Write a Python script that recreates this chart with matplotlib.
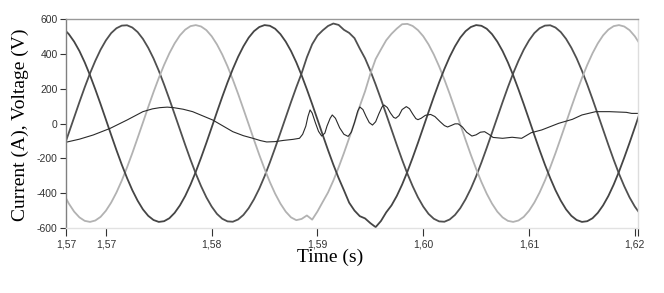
import matplotlib.pyplot as plt

# --- valores ---
# tempo (s) das amostras das tensões (passo de 0,5 ms)
t_v = [1.5660, 1.5665, 1.5670, 1.5675, 1.5680, 1.5685, 1.5690, 1.5695, 1.5700, 1.5705,
       1.5710, 1.5715, 1.5720, 1.5725, 1.5730, 1.5735, 1.5740, 1.5745, 1.5750, 1.5755,
       1.5760, 1.5765, 1.5770, 1.5775, 1.5780, 1.5785, 1.5790, 1.5795, 1.5800, 1.5805,
       1.5810, 1.5815, 1.5820, 1.5825, 1.5830, 1.5835, 1.5840, 1.5845, 1.5850, 1.5855,
       1.5860, 1.5865, 1.5870, 1.5875, 1.5880, 1.5885, 1.5890, 1.5895, 1.5900, 1.5905,
       1.5910, 1.5915, 1.5920, 1.5925, 1.5930, 1.5935, 1.5940, 1.5945, 1.5950, 1.5955,
       1.5960, 1.5965, 1.5970, 1.5975, 1.5980, 1.5985, 1.5990, 1.5995, 1.6000, 1.6005,
       1.6010, 1.6015, 1.6020, 1.6025, 1.6030, 1.6035, 1.6040, 1.6045, 1.6050, 1.6055,
       1.6060, 1.6065, 1.6070, 1.6075, 1.6080, 1.6085, 1.6090, 1.6095, 1.6100, 1.6105,
       1.6110, 1.6115, 1.6120, 1.6125, 1.6130, 1.6135, 1.6140, 1.6145, 1.6150, 1.6155,
       1.6160, 1.6165, 1.6170, 1.6175, 1.6180, 1.6185, 1.6190, 1.6195, 1.6200, 1.6205,
       1.6210]

v_a = [-140, -53, 35, 123, 208, 288, 360, 424, 477, 519,
       547, 562, 564, 551, 525, 486, 435, 374, 303, 224,
       140, 53, -35, -123, -208, -288, -360, -424, -477, -519,
       -547, -562, -564, -551, -525, -486, -435, -374, -303, -224,
       -140, -53, 35, 123, 208, 288, 380, 455, 505, 535,
       560, 574, 566, 538, 520, 490, 430, 374, 303, 224,
       140, 53, -35, -123, -208, -288, -360, -424, -477, -519,
       -547, -562, -564, -551, -525, -486, -435, -374, -303, -224,
       -140, -53, 35, 123, 208, 288, 360, 424, 477, 519,
       547, 562, 564, 551, 525, 486, 435, 374, 303, 224,
       140, 53, -35, -123, -208, -288, -360, -424, -477, -519,
       -547]

v_b = [-403, -460, -506, -539, -559, -565, -557, -536, -501, -454,
       -396, -328, -252, -170, -83, 5, 94, 180, 261, 336,
       403, 460, 506, 539, 559, 565, 557, 536, 501, 454,
       396, 328, 252, 170, 83, -5, -94, -180, -261, -336,
       -403, -460, -506, -539, -555, -548, -528, -552, -505, -450,
       -396, -328, -252, -170, -83, 5, 100, 185, 285, 370,
       425, 478, 515, 545, 570, 572, 560, 536, 501, 454,
       396, 328, 252, 170, 83, -5, -94, -180, -261, -336,
       -403, -460, -506, -539, -559, -565, -557, -536, -501, -454,
       -396, -328, -252, -170, -83, 5, 94, 180, 261, 336,
       403, 460, 506, 539, 559, 565, 557, 536, 501, 454,
       396]

v_c = [544, 513, 470, 416, 351, 277, 196, 111, 23, -66,
       -153, -236, -313, -383, -443, -493, -530, -554, -565, -561,
       -544, -513, -470, -416, -351, -277, -196, -111, -23, 66,
       153, 236, 313, 383, 443, 493, 530, 554, 565, 561,
       544, 513, 470, 416, 351, 277, 196, 111, 23, -66,
       -153, -236, -313, -383, -455, -500, -532, -545, -572, -595,
       -560, -510, -470, -416, -351, -277, -196, -111, -23, 66,
       153, 236, 313, 383, 443, 493, 530, 554, 565, 561,
       544, 513, 470, 416, 351, 277, 196, 111, 23, -66,
       -153, -236, -313, -383, -443, -493, -530, -554, -565, -561,
       -544, -513, -470, -416, -351, -277, -196, -111, -23, 66,
       153]

# corrente (A)
t_i = [1.5662, 1.5675, 1.5688, 1.5704, 1.5720, 1.5735, 1.5744, 1.5751, 1.5758, 1.5764,
       1.5773, 1.5782, 1.5801, 1.5820, 1.5830, 1.5839, 1.5846, 1.5852, 1.5860, 1.5868,
       1.5877, 1.5883, 1.5886, 1.5889, 1.5891, 1.5893, 1.5895, 1.5898, 1.5901, 1.5904,
       1.5907, 1.5909, 1.5912, 1.5914, 1.5917, 1.5921, 1.5925, 1.5929, 1.5932, 1.5935,
       1.5938, 1.5940, 1.5943, 1.5946, 1.5949, 1.5952, 1.5955, 1.5958, 1.5961, 1.5963,
       1.5966, 1.5969, 1.5972, 1.5974, 1.5977, 1.5980, 1.5984, 1.5987, 1.5990, 1.5993,
       1.5995, 1.5998, 1.6002, 1.6007, 1.6011, 1.6016, 1.6020, 1.6023, 1.6027, 1.6030,
       1.6033, 1.6037, 1.6041, 1.6046, 1.6050, 1.6054, 1.6058, 1.6062, 1.6066, 1.6075,
       1.6084, 1.6093, 1.6102, 1.6112, 1.6128, 1.6141, 1.6150, 1.6163, 1.6176, 1.6192,
       1.6197, 1.6203]
i_a = [-108, -90, -66, -28, 20, 68, 84, 91, 94, 91,
       82, 68, 20, -47, -70, -85, -98, -106, -104, -97,
       -91, -85, -62, -15, 40, 78, 60, 5, -45, -72,
       -55, -15, 30, 49, 30, -25, -62, -74, -50, 5,
       70, 95, 80, 40, 5, -9, 10, 55, 95, 106,
       92, 60, 35, 30, 45, 80, 97, 85, 55, 28,
       22, 30, 47, 52, 40, 10, -12, -20, -10, -2,
       -2, -20, -50, -72, -65, -50, -47, -62, -80, -85,
       -79, -85, -53, -37, 1, 24, 49, 68, 68, 64,
       58, 58]

y_ticks = [-600, -400, -200, 0, 200, 400, 600]
x_ticks = [1.56623, 1.57, 1.58, 1.59, 1.60, 1.61, 1.62, 1.6203]
x_labels = ['1,57', '1,57', '1,58', '1,59', '1,60', '1,61', '1,62', '']

fig = plt.figure(figsize=(6.64, 2.93), dpi=100)
ax = fig.add_axes([66 / 664, 1 - 228 / 293, 572 / 664, 209 / 293])

ax.plot(t_v, v_a, color='#505050', lw=1.3)
ax.plot(t_v, v_b, color='#b2b2b2', lw=1.3)
ax.plot(t_v, v_c, color='#454545', lw=1.3)
ax.plot(t_i, i_a, color='#2a2a2a', lw=0.8)

ax.set_xlim(1.56623, 1.6203)
ax.set_ylim(-600, 600)
ax.set_yticks(y_ticks)
ax.set_yticklabels([str(v) for v in y_ticks])
ax.set_xticks(x_ticks)
ax.set_xticklabels(x_labels)
for lab in ax.get_xticklabels() + ax.get_yticklabels():
    lab.set_family('Liberation Sans')

ax.tick_params(axis='both', labelsize=7.5, colors='#333333', length=4, width=0.8, pad=2)
ax.tick_params(axis='x', length=6)
ax.spines['left'].set_color('#808080')
ax.spines['top'].set_color('#999999')
ax.spines['right'].set_color('#dddddd')
ax.spines['bottom'].set_color('#e2e2e2')
for s in ax.spines.values():
    s.set_linewidth(1.0)

fig.text(20 / 664, 1 - 125 / 293, 'Current (A), Voltage (V)', rotation=90,
         ha='center', va='center', family='Liberation Serif', fontsize=14)
fig.text(330 / 664, 1 - 257 / 293, 'Time (s)', ha='center', va='center',
         family='Liberation Serif', fontsize=14)

fig.savefig('out.png', dpi=100)
